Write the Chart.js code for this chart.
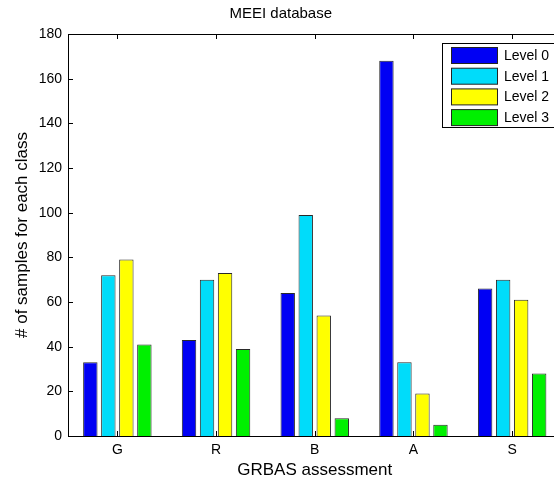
<!DOCTYPE html>
<html>
<head>
<meta charset="utf-8">
<script src="https://cdn.jsdelivr.net/npm/chart.js@4/dist/chart.umd.min.js"></script>
<style>
  html, body { margin: 0; padding: 0; background: #fff; overflow: hidden; }
  #wrap { width: 575px; height: 481px; }
</style>
</head>
<body>
<div id="wrap"><canvas id="chart" width="575" height="481"></canvas></div>
<script>
// data
const categories = ['G', 'R', 'B', 'A', 'S'];
const seriesNames = ['Level 0', 'Level 1', 'Level 2', 'Level 3'];
const level0 = [33, 43, 64, 168, 66];
const level1 = [72, 70, 99, 33, 70];
const level2 = [79, 73, 54, 19, 61];
const level3 = [41, 39, 8, 5, 28];
const yTicks = [0, 20, 40, 60, 80, 100, 120, 140, 160, 180];

const colors = ['#0000f4', '#00dcfa', '#ffff00', '#00f000'];
const FONT = '"Liberation Sans", Arial, Helvetica, sans-serif';

// MATLAB-ish box, inward ticks and a legend inside the axes
const matlabBox = {
  id: 'matlabBox',
  afterDraw(chart) {
    const ctx = chart.ctx;
    const a = chart.chartArea;
    const x = chart.scales.x;
    const y = chart.scales.y;
    ctx.save();
    ctx.strokeStyle = '#000';
    ctx.lineWidth = 1;
    ctx.beginPath();
    ctx.moveTo(a.left, a.top + 0.5);
    ctx.lineTo(a.right, a.top + 0.5);
    ctx.moveTo(a.right - 0.5, a.top);
    ctx.lineTo(a.right - 0.5, a.bottom);
    yTicks.forEach(v => {
      const py = Math.round(y.getPixelForValue(v)) + 0.5;
      ctx.moveTo(a.left, py);
      ctx.lineTo(a.left + 5, py);
    });
    categories.forEach((c, i) => {
      const px = Math.round(x.getPixelForValue(i)) + 0.5;
      ctx.moveTo(px, a.bottom);
      ctx.lineTo(px, a.bottom - 5);
      ctx.moveTo(px, a.top);
      ctx.lineTo(px, a.top + 5);
    });
    ctx.stroke();

    // legend
    const lx = 442.5, ly = 43.5, lw = 130, lh = 84;
    ctx.fillStyle = '#fff';
    ctx.fillRect(lx, ly, lw, lh);
    ctx.strokeRect(lx, ly, lw, lh);
    ctx.font = '14px ' + FONT;
    ctx.textBaseline = 'middle';
    seriesNames.forEach((name, i) => {
      const sy = 47.5 + i * 20.7;
      ctx.fillStyle = colors[i];
      ctx.fillRect(451.5, sy, 46, 16);
      ctx.strokeStyle = '#222';
      ctx.strokeRect(451.5, sy, 46, 16);
      ctx.fillStyle = '#000';
      ctx.fillText(name, 504, sy + 8.5);
    });
    ctx.restore();
  }
};

const datasets = [level0, level1, level2, level3].map((vals, i) => ({
  label: seriesNames[i],
  data: vals,
  backgroundColor: colors[i],
  borderColor: '#2a2a2a',
  borderWidth: 1,
  borderSkipped: 'bottom',
  categoryPercentage: 0.73,
  barPercentage: 0.8
}));

new Chart(document.getElementById('chart'), {
  type: 'bar',
  data: { labels: categories, datasets: datasets },
  options: {
    responsive: false,
    animation: false,
    layout: { padding: { top: 0, right: 13.5, left: 0, bottom: 0 } },
    plugins: {
      legend: { display: false },
      tooltip: { enabled: false },
      title: {
        display: true,
        text: 'MEEI database',
        color: '#000',
        font: { family: FONT, size: 15, weight: 'normal' },
        padding: { top: 5, bottom: 11 }
      }
    },
    scales: {
      x: {
        grid: { display: false, drawTicks: false },
        border: { display: true, color: '#000', width: 1 },
        ticks: { color: '#000', font: { family: FONT, size: 14 }, padding: 6 },
        title: {
          display: true,
          text: 'GRBAS assessment',
          color: '#000',
          font: { family: FONT, size: 17 },
          padding: { top: 0, bottom: 0 }
        },
        afterFit(scale) { scale.height = 45; }
      },
      y: {
        min: 0,
        max: 180,
        afterBuildTicks(scale) { scale.ticks = yTicks.map(v => ({ value: v })); },
        grid: { display: false, drawTicks: false },
        border: { display: true, color: '#000', width: 1 },
        ticks: { color: '#000', font: { family: FONT, size: 14 }, padding: 6 },
        title: {
          display: true,
          text: '# of samples for each class',
          color: '#000',
          font: { family: FONT, size: 17 },
          padding: { top: 12, bottom: 0 }
        },
        afterFit(scale) { scale.width = 68; }
      }
    }
  },
  plugins: [matlabBox]
});
</script>
</body>
</html>
